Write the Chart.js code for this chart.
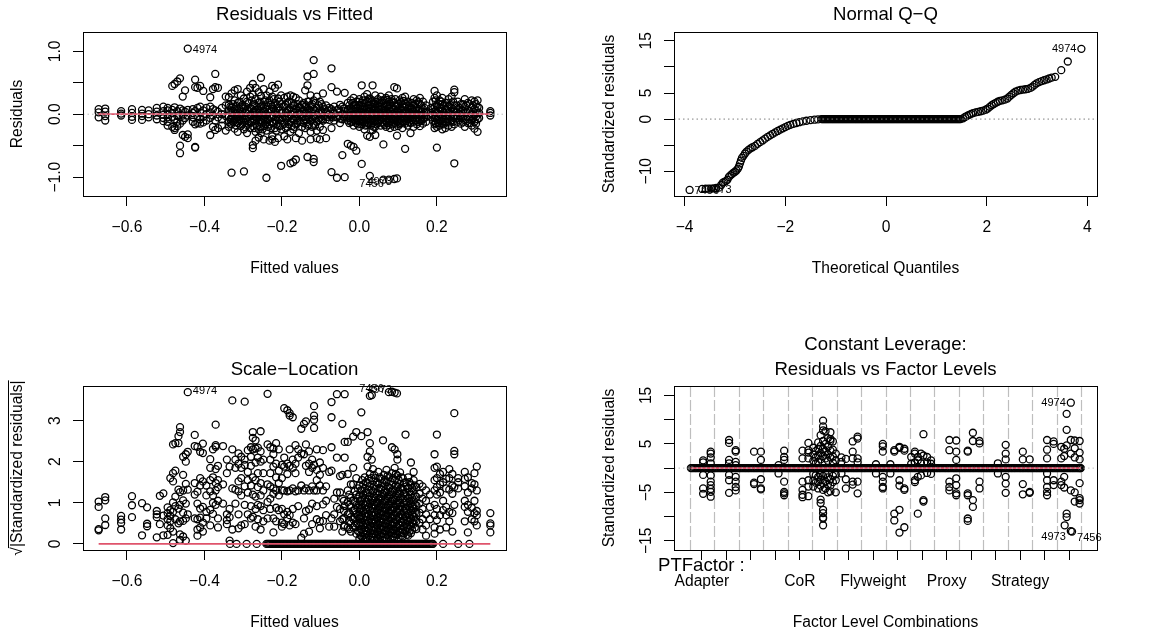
<!DOCTYPE html>
<html>
<head>
<meta charset="utf-8">
<title>lm diagnostics</title>
<script src="https://cdn.jsdelivr.net/npm/chart.js@4.4.1/dist/chart.umd.min.js"></script>
<style>
  body { margin: 0; background: #fff; }
  #page { position: relative; width: 1150px; height: 634px; }
  canvas { position: absolute; }
</style>
</head>
<body>
<div id="page">
  <canvas id="rvf" width="575" height="300" style="left:0;top:0"></canvas>
  <canvas id="qq" width="575" height="300" style="left:575px;top:0"></canvas>
  <canvas id="sl" width="575" height="334" style="left:0;top:300px"></canvas>
  <canvas id="fl" width="575" height="334" style="left:575px;top:300px"></canvas>
</div>
<script>
// ---- Residuals vs Fitted: [fitted value, residuals in that column]
const rvfColumns = [
  [-0.673, [0.08, 0.03, -0.05]],
  [-0.656, [0.09, 0.04, -0.03, -0.10]],
  [-0.615, [0.05, 0.01, -0.02]],
  [-0.587, [0.08, 0.02, -0.04, -0.09]],
  [-0.561, [0.07, 0.01, -0.03, -0.09]],
  [-0.544, [0.06, 0.00, -0.05]],
  [-0.523, [0.10, 0.04, -0.02, -0.08]],
  [-0.506, [0.12, 0.05, -0.01, -0.06, -0.11]],
  [-0.495, [0.10, 0.06, 0.00, -0.05, -0.12, -0.18]],
  [-0.483, [0.45, 0.07, 0.02, -0.04, -0.20]],
  [-0.477, [0.48, 0.11, -0.08, -0.22, -0.25]],
  [-0.470, [0.52, 0.05, -0.03, -0.12, -0.19]],
  [-0.463, [0.57, 0.09, -0.15, -0.50, -0.62]],
  [-0.456, [0.28, 0.06, -0.02, -0.10, -0.33]],
  [-0.450, [0.38, 0.04, -0.06, -0.36]],
  [-0.443, [0.07, -0.02, -0.32, -0.38]],
  [-0.430, [0.08, 0.02, -0.05, -0.12]],
  [-0.424, [0.55, 0.43, 0.05, -0.16, -0.52, -0.53]],
  [-0.418, [0.42, 0.10, -0.03, -0.14]],
  [-0.411, [0.45, 0.12, 0.03, -0.08, -0.15]],
  [-0.403, [0.37, 0.06, -0.04, -0.13]],
  [-0.395, [0.10, 0.00, -0.10]],
  [-0.385, [0.27, 0.12, 0.03, -0.06, -0.33]],
  [-0.378, [0.40, 0.08, -0.02, -0.20]],
  [-0.372, [0.64, 0.43, 0.06, -0.10, -0.25]],
  [-0.365, [0.42, 0.04, -0.05, -0.22]],
  [-0.355, [0.10, 0.00, -0.08, -0.18]],
  [-0.345, [0.28, 0.14, -0.03, -0.26]],
  [-0.337, [0.27, 0.15, 0.06, -0.04, -0.12, -0.20]],
  [-0.330, [0.33, 0.10, 0.02, -0.06, -0.16, -0.93]],
  [-0.322, [0.38, 0.22, 0.08, -0.02, -0.10, -0.23]],
  [-0.314, [0.40, 0.18, 0.05, -0.05, -0.14, -0.28]],
  [-0.306, [0.30, 0.12, 0.00, -0.09, -0.19]],
  [-0.298, [0.25, 0.09, -0.03, -0.12, -0.24, -0.91]],
  [-0.290, [0.36, 0.20, 0.06, -0.06, -0.17, -0.30]],
  [-0.282, [0.42, 0.28, 0.10, -0.01, -0.11, -0.22]],
  [-0.275, [0.48, 0.31, 0.14, 0.03, -0.08, -0.19, -0.49, -0.54]],
  [-0.268, [0.42, 0.24, 0.07, -0.04, -0.15, -0.28, -0.42]],
  [-0.260, [0.35, 0.18, 0.02, -0.10, -0.24, -0.37]],
  [-0.254, [0.58, 0.29, 0.12, -0.02, -0.13, -0.30]],
  [-0.247, [0.40, 0.20, 0.05, -0.07, -0.19, -0.40]],
  [-0.240, [0.30, 0.14, 0.00, -0.12, -0.26, -1.01]],
  [-0.232, [0.36, 0.22, 0.08, -0.04, -0.16, -0.42]],
  [-0.225, [0.45, 0.28, 0.12, -0.02, -0.14, -0.35, -0.40]],
  [-0.218, [0.42, 0.18, 0.04, -0.09, -0.22, -0.44]],
  [-0.210, [0.47, 0.25, 0.10, -0.05, -0.18, -0.38]],
  [-0.202, [0.30, 0.16, 0.02, -0.10, -0.24, -0.82]],
  [-0.194, [0.26, 0.12, -0.03, -0.15, -0.35]],
  [-0.186, [0.28, 0.18, 0.06, -0.06, -0.20, -0.40]],
  [-0.178, [0.30, 0.10, 0.00, -0.12, -0.28, -0.78]],
  [-0.171, [0.28, 0.14, 0.04, -0.08, -0.24, -0.76]],
  [-0.164, [0.26, 0.08, -0.04, -0.16, -0.38, -0.72]],
  [-0.156, [0.22, 0.12, 0.02, -0.10, -0.30]],
  [-0.148, [0.15, 0.05, -0.05, -0.20, -0.42]],
  [-0.140, [0.38, 0.12, 0.01, -0.08, -0.22]],
  [-0.134, [0.60, 0.46, 0.20, 0.06, -0.04, -0.18, -0.68]],
  [-0.126, [0.30, 0.14, 0.03, -0.10, -0.28, -0.40]],
  [-0.118, [0.86, 0.64, 0.22, 0.08, -0.03, -0.15, -0.71, -0.76]],
  [-0.110, [0.28, 0.10, -0.01, -0.12, -0.26, -0.38]],
  [-0.102, [0.20, 0.06, -0.06, -0.20, -0.40]],
  [-0.094, [0.33, 0.12, 0.02, -0.10, -0.25]],
  [-0.086, [0.14, 0.03, -0.08, -0.38]],
  [-0.078, [0.10, 0.00, -0.09]],
  [-0.072, [0.73, 0.43, 0.08, -0.04, -0.22, -0.92]],
  [-0.065, [0.12, 0.01, -0.10]],
  [-0.058, [0.36, 0.06, -0.05, -1.01]],
  [-0.050, [0.15, 0.03, -0.07, -0.14]],
  [-0.044, [0.12, 0.00, -0.08, -0.65]],
  [-0.038, [0.34, 0.05, -0.03, -1.00]],
  [-0.030, [0.18, 0.08, -0.02, -0.10, -0.47]],
  [-0.022, [0.22, 0.10, 0.03, -0.04, -0.12, -0.50]],
  [-0.015, [0.26, 0.14, 0.06, -0.02, -0.09, -0.18, -0.52]],
  [-0.008, [0.20, 0.09, 0.01, -0.06, -0.14, -0.58]],
  [0.000, [0.24, 0.15, 0.05, -0.03, -0.11, -0.20]],
  [0.006, [0.46, 0.18, 0.08, -0.01, -0.08, -0.16, -0.79]],
  [0.013, [0.28, 0.12, 0.04, -0.05, -0.13, -0.24]],
  [0.020, [0.32, 0.20, 0.09, 0.00, -0.07, -0.17, -0.34]],
  [0.027, [0.25, 0.14, 0.05, -0.03, -0.12, -0.36, -0.98]],
  [0.034, [0.46, 0.22, 0.11, 0.02, -0.06, -0.15, -0.25]],
  [0.041, [0.30, 0.16, 0.07, -0.02, -0.10, -0.20, -0.33]],
  [0.048, [0.24, 0.12, 0.03, -0.05, -0.14]],
  [0.055, [0.28, 0.18, 0.08, 0.00, -0.09, -0.18]],
  [0.062, [0.22, 0.10, 0.02, -0.06, -0.15, -0.48, -1.04]],
  [0.069, [0.26, 0.15, 0.06, -0.03, -0.11, -0.20]],
  [0.076, [0.30, 0.20, 0.09, 0.01, -0.08, -0.17]],
  [0.083, [0.24, 0.12, 0.04, -0.05, -0.13]],
  [0.090, [0.43, 0.18, 0.07, -0.02, -0.10, -0.20, -1.03]],
  [0.097, [0.41, 0.14, 0.05, -0.04, -0.12, -0.34]],
  [0.104, [0.22, 0.10, 0.02, -0.07, -0.16]],
  [0.111, [0.26, 0.16, 0.06, -0.03, -0.11, -0.22]],
  [0.118, [0.28, 0.12, 0.03, -0.06, -0.15, -0.55]],
  [0.125, [0.20, 0.08, 0.00, -0.08, -0.18]],
  [0.132, [0.18, 0.10, 0.02, -0.06, -0.14, -0.30]],
  [0.140, [0.24, 0.14, 0.05, -0.04, -0.12, -0.20]],
  [0.148, [0.22, 0.10, 0.01, -0.07, -0.16]],
  [0.156, [0.26, 0.16, 0.06, -0.02, -0.10, -0.19]],
  [0.164, [0.20, 0.08, 0.00, -0.08, -0.15]],
  [0.172, [0.14, 0.04, -0.04, -0.12]],
  [0.185, [0.10, 0.02, -0.05]],
  [0.194, [0.37, 0.26, 0.12, 0.04, -0.06, -0.16, -0.22]],
  [0.200, [0.30, 0.14, 0.02, -0.09, -0.20, -0.53]],
  [0.207, [0.22, 0.10, 0.00, -0.10, -0.18]],
  [0.214, [0.26, 0.16, 0.05, -0.06, -0.15, -0.24]],
  [0.222, [0.18, 0.08, -0.02, -0.12, -0.22]],
  [0.230, [0.24, 0.12, 0.03, -0.07, -0.18]],
  [0.238, [0.28, 0.10, 0.00, -0.10, -0.20]],
  [0.245, [0.39, 0.35, 0.14, 0.04, -0.06, -0.16, -0.78]],
  [0.254, [0.20, 0.08, -0.03, -0.12]],
  [0.262, [0.16, 0.04, -0.06, -0.15]],
  [0.272, [0.24, 0.12, 0.02, -0.09, -0.20]],
  [0.280, [0.18, 0.06, -0.04, -0.14]],
  [0.290, [0.22, 0.10, 0.00, -0.10, -0.18]],
  [0.297, [0.20, 0.08, -0.02, -0.12, -0.23]],
  [0.305, [0.22, 0.12, 0.02, -0.08, -0.28]],
  [0.338, [0.05, 0.02, -0.02]]
];
// the crowded core of the band near zero
const rvfBandColumns = [
  [-0.333, [0.12, 0.04, -0.08, -0.15]], [-0.326, [0.16, 0.05, -0.03, -0.12]],
  [-0.318, [0.13, 0.01, -0.07, -0.18]], [-0.310, [0.20, 0.08, -0.02, -0.11]],
  [-0.302, [0.15, 0.04, -0.06, -0.16]], [-0.294, [0.12, 0.02, -0.09, -0.21]],
  [-0.286, [0.18, 0.06, -0.04, -0.15]], [-0.278, [0.22, 0.08, -0.03, -0.13]],
  [-0.271, [0.16, 0.03, -0.10, -0.22]], [-0.264, [0.12, 0.04, -0.06, -0.18]],
  [-0.257, [0.20, 0.06, -0.05, -0.20]], [-0.250, [0.14, 0.02, -0.10, -0.24]],
  [-0.243, [0.22, 0.08, -0.04, -0.16]], [-0.236, [0.18, 0.03, -0.08, -0.20]],
  [-0.228, [0.15, 0.05, -0.06, -0.22]], [-0.221, [0.24, 0.09, -0.03, -0.15]],
  [-0.214, [0.16, 0.02, -0.10, -0.26]], [-0.206, [0.20, 0.06, -0.07, -0.19]],
  [-0.198, [0.12, 0.03, -0.05, -0.17]], [-0.190, [0.15, 0.02, -0.09, -0.22]],
  [-0.182, [0.20, 0.07, -0.04, -0.16]], [-0.175, [0.18, 0.05, -0.06, -0.19]],
  [-0.168, [0.14, 0.02, -0.10, -0.20]], [-0.160, [0.16, 0.05, -0.06, -0.14]],
  [-0.152, [0.10, 0.00, -0.12]], [-0.144, [0.18, 0.06, -0.04, -0.14]],
  [-0.137, [0.14, 0.02, -0.09]], [-0.130, [0.20, 0.07, -0.05, -0.16]],
  [-0.122, [0.16, 0.04, -0.07, -0.20]], [-0.114, [0.18, 0.05, -0.06, -0.18]],
  [-0.106, [0.14, 0.02, -0.10]], [-0.098, [0.16, 0.04, -0.08]],
  [-0.090, [0.08, -0.03]], [-0.082, [0.06, -0.04]], [-0.068, [0.05, -0.05]],
  [-0.054, [0.08, -0.02]], [-0.040, [0.09, -0.04]],
  [-0.026, [0.14, 0.05, -0.06, -0.14]], [-0.018, [0.18, 0.08, -0.01, -0.12]],
  [-0.011, [0.15, 0.04, -0.03, -0.10]], [-0.004, [0.20, 0.10, 0.02, -0.07, -0.16]],
  [0.003, [0.14, 0.03, -0.05, -0.13]], [0.009, [0.22, 0.12, 0.02, -0.04, -0.12]],
  [0.016, [0.18, 0.07, -0.02, -0.10, -0.18]], [0.023, [0.24, 0.14, 0.04, -0.05, -0.14]],
  [0.030, [0.19, 0.09, 0.00, -0.09, -0.18]], [0.037, [0.16, 0.06, -0.03, -0.11, -0.20]],
  [0.044, [0.20, 0.10, 0.01, -0.07, -0.16]], [0.051, [0.18, 0.07, -0.02, -0.10]],
  [0.058, [0.22, 0.12, 0.03, -0.05, -0.13]], [0.065, [0.18, 0.06, -0.02, -0.09, -0.17]],
  [0.072, [0.23, 0.13, 0.03, -0.06, -0.14]], [0.079, [0.16, 0.05, -0.03, -0.11, -0.22]],
  [0.086, [0.20, 0.08, 0.00, -0.08, -0.16]], [0.093, [0.24, 0.12, 0.02, -0.06, -0.15]],
  [0.100, [0.17, 0.06, -0.02, -0.10, -0.19]], [0.107, [0.19, 0.08, 0.00, -0.09, -0.14]],
  [0.114, [0.21, 0.11, 0.02, -0.05, -0.13]], [0.121, [0.16, 0.05, -0.03, -0.11]],
  [0.128, [0.14, 0.04, -0.04, -0.12]], [0.136, [0.18, 0.08, 0.00, -0.09]],
  [0.144, [0.16, 0.06, -0.02, -0.10]], [0.152, [0.19, 0.08, -0.01, -0.12]],
  [0.160, [0.14, 0.04, -0.05, -0.11]], [0.168, [0.10, 0.02, -0.06]],
  [0.190, [0.20, 0.08, -0.02, -0.10]], [0.197, [0.22, 0.06, -0.04, -0.14]],
  [0.204, [0.16, 0.05, -0.05, -0.14]], [0.211, [0.20, 0.09, -0.02, -0.11]],
  [0.218, [0.14, 0.03, -0.07, -0.16]], [0.226, [0.18, 0.07, -0.03, -0.12]],
  [0.234, [0.15, 0.05, -0.04, -0.13]], [0.242, [0.20, 0.08, -0.03, -0.12]],
  [0.250, [0.14, 0.03, -0.07]], [0.258, [0.10, 0.01, -0.09]],
  [0.267, [0.16, 0.06, -0.04, -0.13]], [0.276, [0.14, 0.03, -0.08]],
  [0.285, [0.16, 0.05, -0.05, -0.14]], [0.293, [0.14, 0.04, -0.06]],
  [0.301, [0.16, 0.06, -0.04, -0.15]], [0.309, [0.10, 0.02, -0.06]]
];
const rvfSmoothX = [-0.673, -0.45, -0.2, 0.0, 0.2, 0.338];
const rvfSmoothY = [0.0, 0.0, 0.0, 0.0, 0.0, 0.0];
const rvfIdText = ['4974', '7456', '4973'];
const rvfIdX = [-0.443, 0.076, 0.097];
const rvfIdY = [1.043, -1.04, -1.02];
const rvfXTicks = [-0.6, -0.4, -0.2, 0.0, 0.2];
const rvfXTickLabels = ['\u22120.6', '\u22120.4', '\u22120.2', '0.0', '0.2'];
const rvfYTicks = [-1.0, -0.5, 0.0, 0.5, 1.0];
const rvfYTickLabels = ['\u22121.0', '', '0.0', '', '1.0'];

// ---- Normal Q-Q: theoretical quantile / standardized residual
const qqTailTheo = [-3.90, -3.65, -3.58, -3.52, -3.47, -3.42, -3.37, -3.32, -3.27, -3.24, -3.21, -3.18,
  -3.15, -3.12, -3.09, -3.06, -3.03, -3.00, -2.97, -2.94, -2.92, -2.90, -2.88, -2.86, -2.83, -2.80,
  -2.77, -2.73, -2.69, -2.65, -2.60, -2.55, -2.50, -2.45, -2.40, -2.35, -2.30, -2.25, -2.20, -2.15,
  -2.10, -2.05, -2.00, -1.95, -1.90, -1.84, -1.78, -1.72, -1.65, -1.58, -1.50, -1.42, -1.35,
  1.53, 1.57, 1.61, 1.65, 1.69, 1.73, 1.78, 1.83, 1.88, 1.93, 1.98, 2.02, 2.06, 2.10, 2.14, 2.18,
  2.22, 2.26, 2.31, 2.36, 2.41, 2.45, 2.49, 2.53, 2.57, 2.62, 2.67, 2.72, 2.77, 2.82, 2.87, 2.91,
  2.95, 2.99, 3.04, 3.09, 3.14, 3.19, 3.24, 3.29, 3.36, 3.48, 3.61, 3.88];
const qqTailStd = [-13.59, -13.40, -13.36, -13.34, -13.32, -13.28, -13.22, -13.15, -12.60, -12.20, -12.05, -11.90,
  -11.65, -11.10, -10.80, -10.55, -10.30, -10.10, -9.85, -9.50, -9.10, -8.50, -7.95, -7.45, -7.05, -6.60,
  -6.25, -5.90, -5.62, -5.40, -5.15, -4.75, -4.42, -4.10, -3.75, -3.42, -3.12, -2.82, -2.55, -2.28,
  -2.02, -1.78, -1.55, -1.30, -1.10, -0.92, -0.75, -0.60, -0.45, -0.32, -0.20, -0.12, -0.06,
  0.15, 0.40, 0.62, 0.82, 1.00, 1.15, 1.28, 1.40, 1.50, 1.62, 1.80, 2.02, 2.35, 2.65, 2.90, 3.12,
  3.32, 3.48, 3.60, 3.72, 3.95, 4.30, 4.65, 4.95, 5.25, 5.45, 5.58, 5.66, 5.72, 5.80, 5.98, 6.22,
  6.55, 6.85, 7.08, 7.28, 7.45, 7.60, 7.78, 7.95, 8.10, 9.38, 11.04, 13.47];
// the flat run of zero standardized residuals
const qqZeroTheo = [-1.28, -1.26, -1.24, -1.22, -1.20, -1.18, -1.16, -1.14, -1.12, -1.10, -1.08, -1.06,
  -1.04, -1.02, -1.00, -0.98, -0.96, -0.94, -0.92, -0.90, -0.88, -0.86, -0.84, -0.82, -0.80, -0.78,
  -0.76, -0.74, -0.72, -0.70, -0.68, -0.66, -0.64, -0.62, -0.60, -0.58, -0.56, -0.54, -0.52, -0.50,
  -0.48, -0.46, -0.44, -0.42, -0.40, -0.38, -0.36, -0.34, -0.32, -0.30, -0.28, -0.26, -0.24, -0.22,
  -0.20, -0.18, -0.16, -0.14, -0.12, -0.10, -0.08, -0.06, -0.04, -0.02, 0.00, 0.02, 0.04, 0.06, 0.08,
  0.10, 0.12, 0.14, 0.16, 0.18, 0.20, 0.22, 0.24, 0.26, 0.28, 0.30, 0.32, 0.34, 0.36, 0.38, 0.40,
  0.42, 0.44, 0.46, 0.48, 0.50, 0.52, 0.54, 0.56, 0.58, 0.60, 0.62, 0.64, 0.66, 0.68, 0.70, 0.72,
  0.74, 0.76, 0.78, 0.80, 0.82, 0.84, 0.86, 0.88, 0.90, 0.92, 0.94, 0.96, 0.98, 1.00, 1.02, 1.04,
  1.06, 1.08, 1.10, 1.12, 1.14, 1.16, 1.18, 1.20, 1.22, 1.24, 1.26, 1.28, 1.30, 1.32, 1.34, 1.36,
  1.38, 1.40, 1.42, 1.44, 1.46, 1.48];
const qqIdText = ['4974', '7456', '4973'];
const qqIdX = [3.88, -3.90, -3.65];
const qqIdY = [13.47, -13.59, -13.40];
const qqXTicks = [-4, -2, 0, 2, 4];
const qqXTickLabels = ['\u22124', '\u22122', '0', '2', '4'];
const qqYTicks = [-10, -5, 0, 5, 10, 15];
const qqYTickLabels = ['\u221210', '', '0', '5', '', '15'];

// ---- Scale-Location: [fitted value, sqrt(|standardized residual|) values]
const slColumns = [
  [-0.673, [1.03, 0.90, 0.36, 0.33]],
  [-0.656, [1.14, 1.06, 0.62, 0.46]],
  [-0.615, [0.68, 0.59, 0.51, 0.35]],
  [-0.587, [1.16, 0.94, 0.65]],
  [-0.561, [0.99, 0.21]],
  [-0.548, [0.89, 0.49, 0.43]],
  [-0.523, [0.80, 0.72, 0.65, 0.16]],
  [-0.515, [1.17, 0.48]],
  [-0.506, [1.23, 0.69, 0.21]],
  [-0.495, [0.89, 0.75, 0.60, 0.45, 0.22]],
  [-0.488, [1.60, 0.82, 0.68, 0.55, 0.38]],
  [-0.481, [2.42, 1.72, 1.52, 1.01, 0.78, 0.30, 0.02]],
  [-0.475, [2.45, 1.78, 1.15, 0.92, 0.60]],
  [-0.467, [2.62, 2.45, 1.32, 0.86, 0.50]],
  [-0.463, [2.84, 2.72, 1.26, 0.95, 0.55, 0.23, 0.10]],
  [-0.455, [2.12, 1.68, 1.30, 1.06, 0.76, 0.56, 0.18]],
  [-0.448, [2.18, 2.00, 1.46, 0.98, 0.62, 0.08]],
  [-0.443, [2.24, 1.32, 0.72]],
  [-0.425, [2.65, 2.38, 1.48, 1.20, 0.62]],
  [-0.418, [2.36, 1.27, 0.98, 0.60, 0.35, 0.20]],
  [-0.411, [2.24, 1.60, 1.42, 0.86, 0.64, 0.40]],
  [-0.404, [2.44, 2.21, 1.52, 0.90, 0.52, 0.30]],
  [-0.395, [1.42, 1.18, 0.78, 0.62]],
  [-0.385, [2.06, 1.85, 1.55, 1.28, 0.83, 0.45]],
  [-0.378, [2.30, 1.62, 1.18, 1.00, 0.73]],
  [-0.371, [2.90, 2.40, 2.36, 1.82, 1.48, 1.30, 0.95]],
  [-0.365, [1.90, 1.55, 1.38, 1.05, 0.62, 0.40]],
  [-0.352, [2.38, 1.45, 0.98]],
  [-0.342, [2.05, 1.72, 0.72, 0.58, 0.48]],
  [-0.335, [1.88, 0.85, 0.65, 0.08]],
  [-0.328, [3.49, 2.30, 1.35, 0.35]],
  [-0.320, [2.05, 1.85, 1.32, 0.98]],
  [-0.312, [2.20, 1.95, 1.52, 1.28, 0.72, 0.38]],
  [-0.305, [2.12, 1.85, 1.60, 1.18, 0.45]],
  [-0.296, [3.46, 2.05, 1.92, 1.40, 0.95, 0.48]],
  [-0.288, [2.28, 1.75, 1.55, 1.25, 0.72]],
  [-0.280, [2.35, 2.12, 1.90, 1.42, 0.92, 0.62]],
  [-0.275, [2.72, 2.58, 2.30, 1.62, 1.20, 0.66]],
  [-0.268, [2.52, 2.32, 1.98, 1.55, 1.15, 0.85, 0.42]],
  [-0.262, [2.34, 2.10, 1.72, 1.38, 0.95, 0.60]],
  [-0.255, [2.74, 2.25, 2.00, 1.48, 1.18, 0.92, 0.35]],
  [-0.248, [2.05, 1.72, 1.30, 0.82, 0.55]],
  [-0.237, [3.65, 2.42, 1.45, 1.02, 0.62]],
  [-0.230, [2.35, 2.05, 1.72, 1.40, 1.10, 0.85]],
  [-0.222, [2.32, 2.18, 1.88, 1.35, 1.22, 0.62, 0.28]],
  [-0.215, [2.45, 1.95, 1.62, 1.30, 0.88, 0.55]],
  [-0.208, [2.30, 1.78, 1.48, 1.18, 0.82]],
  [-0.200, [1.92, 1.60, 1.30, 0.85, 0.52, 0.42]],
  [-0.194, [3.30, 2.10, 1.88, 1.30, 0.72, 0.48]],
  [-0.186, [3.25, 1.95, 1.70, 1.28, 0.78, 0.62]],
  [-0.180, [3.18, 3.12, 2.30, 1.90, 1.30, 0.70, 0.45]],
  [-0.172, [3.08, 2.05, 1.85, 1.35, 0.85, 0.52]],
  [-0.165, [2.40, 1.95, 1.72, 1.28, 0.48]],
  [-0.158, [2.30, 2.10, 1.30, 0.92]],
  [-0.150, [2.80, 2.20, 1.42, 0.15]],
  [-0.143, [2.92, 2.18, 1.30, 0.62, 0.25]],
  [-0.138, [2.98, 2.42, 1.90, 1.35, 0.80]],
  [-0.130, [2.25, 1.95, 1.75, 1.30, 0.84, 0.30]],
  [-0.122, [2.05, 1.85, 1.40, 0.98, 0.48]],
  [-0.117, [3.35, 3.12, 3.02, 2.82, 1.92, 1.30]],
  [-0.110, [2.30, 1.80, 1.55, 1.30, 0.92, 0.60]],
  [-0.102, [1.98, 1.68, 1.42, 0.55, 0.38]],
  [-0.094, [2.28, 1.85, 1.30, 0.96, 0.56]],
  [-0.086, [1.40, 1.05, 0.70]],
  [-0.078, [1.75, 0.42]],
  [-0.072, [3.45, 3.08, 2.35, 1.78, 0.62]],
  [-0.065, [1.10, 0.72, 0.42]],
  [-0.058, [3.64, 2.10, 1.25, 0.90]],
  [-0.050, [1.65, 1.25, 0.85, 0.55]],
  [-0.044, [2.92, 1.68, 1.10, 0.60, 0.30]],
  [-0.038, [3.64, 2.48, 2.10, 0.92, 0.45]],
  [-0.030, [2.48, 1.70, 1.30, 1.02, 0.72, 0.40]],
  [-0.022, [1.45, 1.12, 0.90, 0.65, 0.50, 0.30]],
  [-0.016, [2.61, 1.85, 1.45, 1.05, 0.80, 0.60, 0.40]],
  [-0.008, [2.72, 1.60, 1.20, 0.95, 0.72, 0.50, 0.25]],
  [0.000, [1.42, 1.18, 0.96, 0.78, 0.62, 0.44, 0.28, 0.12]],
  [0.005, [3.20, 2.62]],
  [0.007, [1.55, 1.30, 1.08, 0.88, 0.70, 0.52, 0.36, 0.18]],
  [0.014, [1.62, 1.36, 1.12, 0.94, 0.74, 0.58, 0.40, 0.22, 0.10]],
  [0.021, [2.72, 2.12, 1.88, 1.48, 1.24, 1.02, 0.84, 0.66, 0.48, 0.30, 0.14]],
  [0.027, [3.60, 2.45, 2.25, 1.70, 1.40, 1.16, 0.98, 0.80, 0.60, 0.42, 0.26]],
  [0.032, [3.62, 2.05]],
  [0.035, [1.82, 1.52, 1.28, 1.06, 0.86, 0.68, 0.50, 0.32, 0.16]],
  [0.042, [1.60, 1.34, 1.12, 0.92, 0.72, 0.54, 0.38, 0.20]],
  [0.049, [1.75, 1.45, 1.20, 1.00, 0.82, 0.64, 0.46, 0.28, 0.12]],
  [0.056, [1.58, 1.32, 1.10, 0.90, 0.70, 0.52, 0.34, 0.18]],
  [0.061, [2.52]],
  [0.063, [1.68, 1.40, 1.18, 0.96, 0.78, 0.58, 0.40, 0.24]],
  [0.070, [1.80, 1.50, 1.26, 1.04, 0.84, 0.66, 0.48, 0.30, 0.14]],
  [0.077, [1.62, 1.36, 1.14, 0.94, 0.74, 0.56, 0.36, 0.20]],
  [0.084, [3.70, 2.35, 1.72, 1.44, 1.20, 0.98, 0.80, 0.62, 0.44, 0.26]],
  [0.091, [3.68, 2.30, 1.85, 1.55, 1.30, 1.08, 0.88, 0.68, 0.50, 0.32, 0.16]],
  [0.098, [2.18, 2.05, 1.66, 1.38, 1.16, 0.95, 0.76, 0.58, 0.40, 0.22]],
  [0.105, [1.74, 1.46, 1.22, 1.00, 0.82, 0.62, 0.44, 0.28]],
  [0.112, [1.60, 1.34, 1.10, 0.90, 0.70, 0.52, 0.34, 0.18]],
  [0.119, [2.66, 1.50, 1.26, 1.04, 0.86, 0.66, 0.48, 0.30]],
  [0.126, [1.62, 1.36, 1.12, 0.92, 0.72, 0.54, 0.36, 0.20]],
  [0.133, [1.98, 1.44, 1.20, 0.98, 0.80, 0.60, 0.42, 0.26]],
  [0.140, [1.75, 1.55, 1.30, 1.06, 0.86, 0.66, 0.48]],
  [0.147, [1.38, 1.15, 0.94, 0.74, 0.55, 0.36]],
  [0.155, [1.46, 1.22, 0.98, 0.76, 0.52]],
  [0.163, [1.40, 1.10, 0.85, 0.60, 0.35]],
  [0.172, [1.30, 1.05, 0.72, 0.45, 0.20]],
  [0.182, [1.20, 0.90, 0.60]],
  [0.194, [2.18, 1.85, 1.55, 1.30, 0.95, 0.70, 0.40, 0.25]],
  [0.200, [2.66, 1.88, 1.60, 1.38, 1.20, 0.85, 0.58]],
  [0.208, [1.70, 1.45, 1.25, 0.70, 0.35]],
  [0.216, [1.75, 1.50, 1.05, 0.82]],
  [0.224, [1.58, 1.35, 0.90, 0.70, 0.40]],
  [0.232, [1.82, 1.60, 1.32, 0.78, 0.55]],
  [0.240, [1.70, 1.42, 1.22, 0.75, 0.30]],
  [0.245, [3.18, 2.26, 2.18, 1.38, 0.95]],
  [0.255, [1.60, 1.35, 1.50]],
  [0.272, [1.75, 1.58, 1.40, 1.05, 0.90, 0.55]],
  [0.280, [1.62, 1.25, 0.95, 0.78, 0.28]],
  [0.290, [1.48, 1.35, 0.88, 0.60]],
  [0.297, [1.72, 1.45, 1.05, 0.75, 0.55]],
  [0.303, [1.88, 1.30, 0.80, 0.70, 0.45]],
  [0.338, [0.75, 0.50, 0.45, 0.28]]
];
// the solid black blob just right of zero
const slBlobColumns = [
  [-0.040, [1.05, 0.80, 0.62, 0.42]], [-0.026, [1.20, 0.95, 0.75, 0.55, 0.36]],
  [-0.012, [1.28, 1.02, 0.82, 0.62, 0.44]], [-0.004, [1.35, 1.10, 0.88, 0.68, 0.50, 0.32]],
  [0.003, [1.30, 1.05, 0.86, 0.68, 0.52, 0.36, 0.20]], [0.010, [1.45, 1.20, 0.98, 0.80, 0.62, 0.46, 0.28, 0.12]],
  [0.017, [1.50, 1.25, 1.02, 0.84, 0.66, 0.50, 0.32, 0.16]], [0.024, [1.58, 1.32, 1.10, 0.90, 0.72, 0.55, 0.38, 0.20]],
  [0.031, [1.60, 1.30, 1.08, 0.88, 0.70, 0.52, 0.34, 0.18]], [0.038, [1.68, 1.40, 1.16, 0.96, 0.78, 0.60, 0.42, 0.24, 0.10]],
  [0.045, [1.50, 1.24, 1.02, 0.82, 0.64, 0.46, 0.30, 0.14]], [0.052, [1.62, 1.36, 1.12, 0.92, 0.74, 0.56, 0.38, 0.22]],
  [0.059, [1.48, 1.22, 1.00, 0.80, 0.62, 0.44, 0.26, 0.10]], [0.066, [1.56, 1.30, 1.08, 0.88, 0.68, 0.50, 0.32, 0.16]],
  [0.073, [1.66, 1.40, 1.16, 0.95, 0.76, 0.58, 0.40, 0.22]], [0.080, [1.52, 1.26, 1.04, 0.84, 0.66, 0.48, 0.30, 0.12]],
  [0.087, [1.60, 1.32, 1.10, 0.90, 0.70, 0.52, 0.36, 0.18]], [0.094, [1.70, 1.42, 1.20, 0.98, 0.78, 0.60, 0.42, 0.24]],
  [0.101, [1.56, 1.28, 1.06, 0.86, 0.66, 0.48, 0.32, 0.14]], [0.108, [1.62, 1.36, 1.12, 0.92, 0.72, 0.54, 0.36, 0.20]],
  [0.115, [1.48, 1.22, 1.00, 0.80, 0.60, 0.42, 0.26]], [0.122, [1.40, 1.16, 0.96, 0.76, 0.58, 0.40, 0.22]],
  [0.129, [1.50, 1.26, 1.04, 0.84, 0.64, 0.46, 0.30]], [0.136, [1.36, 1.12, 0.92, 0.72, 0.52, 0.34]],
  [0.143, [1.42, 1.18, 0.96, 0.76, 0.58, 0.40]]
];
// fitted values whose residual is exactly zero
const slZeroX = [-0.334, -0.317, -0.291, -0.265, -0.240, -0.234, -0.228, -0.222, -0.216, -0.210,
  -0.204, -0.198, -0.192, -0.186, -0.180, -0.174, -0.168, -0.162, -0.156, -0.150, -0.144, -0.138,
  -0.132, -0.126, -0.120, -0.114, -0.108, -0.102, -0.096, -0.090, -0.084, -0.078, -0.072, -0.066,
  -0.060, -0.054, -0.048, -0.042, -0.036, -0.030, -0.024, -0.018, -0.012, -0.006, 0.000, 0.006,
  0.012, 0.018, 0.024, 0.030, 0.036, 0.042, 0.048, 0.054, 0.060, 0.066, 0.072, 0.078, 0.084, 0.090,
  0.096, 0.102, 0.108, 0.114, 0.120, 0.126, 0.132, 0.138, 0.144, 0.150, 0.156, 0.162, 0.168, 0.174,
  0.180, 0.186, 0.190, 0.216, 0.255, 0.284,
  -0.237, -0.231, -0.225, -0.219, -0.213, -0.207, -0.201, -0.195, -0.189, -0.183, -0.177, -0.171,
  -0.165, -0.159, -0.153, -0.147, -0.141, -0.135, -0.129, -0.123, -0.117, -0.111, -0.105, -0.099,
  -0.093, -0.087, -0.081, -0.075, -0.069, -0.063, -0.057, -0.051, -0.045, -0.039, -0.033, -0.027,
  -0.021, -0.015, -0.009, -0.003, 0.003, 0.009, 0.015, 0.021, 0.027, 0.033, 0.039, 0.045, 0.051,
  0.057, 0.063, 0.069, 0.075, 0.081, 0.087, 0.093, 0.099, 0.105, 0.111, 0.117, 0.123, 0.129, 0.135,
  0.141, 0.147, 0.153, 0.159, 0.165, 0.171, 0.177, 0.183, 0.188];
const slSmoothX = [-0.673, -0.45, -0.2, 0.0, 0.2, 0.338];
const slSmoothY = [0.0, 0.0, 0.0, 0.0, 0.0, 0.0];
const slIdText = ['4974', '7456', '4973'];
const slIdX = [-0.443, 0.076, 0.097];
const slIdY = [3.69, 3.69, 3.66];
const slYTicks = [0, 1, 2, 3];
const slYTickLabels = ['0', '1', '2', '3'];

// ---- Constant leverage: [factor level position, standardized residuals]
const flColumns = [
  [0.55, [1.6, 1.2, -1.4, -4.2, -5.3]],
  [0.86, [3.4, 3.0, 2.2, 1.0, -1.5, -2.8, -3.5, -4.3, -4.9, -5.9]],
  [1.61, [5.8, 5.2, 1.7, 1.0, -1.4, -2.5, -5.1]],
  [1.88, [3.7, 3.4, 1.3, 0.6, -1.8, -2.8, -3.9, -4.6]],
  [2.63, [3.4, -3.0, -3.3]],
  [2.91, [3.4, 1.7, -2.3, -4.2, -4.4]],
  [3.63, [0.6, -1.1]],
  [3.86, [3.6, 2.3, 1.7, -2.8, -4.9, -5.2, -5.6]],
  [4.61, [3.6, 2.0, -2.8, -4.5, -5.5, -6.0]],
  [4.85, [5.2, 3.7, 3.2, 2.0, -2.5, -3.8, -5.8]],
  [5.05, [4.2, 2.8, 1.5, -1.2, -2.6, -3.8]],
  [5.15, [3.5, 2.2, 1.0, -1.5, -3.0]],
  [5.25, [5.3, 4.0, 2.6, 1.3, -1.8, -2.9, -4.2]],
  [5.35, [6.8, 4.6, 3.1, 1.8, -1.4, -2.4, -3.6, -6.5, -7.2]],
  [5.45, [9.8, 8.6, 7.8, 5.6, 4.0, 2.5, -1.6, -3.1, -4.5, -8.6, -9.3, -10.2, -10.4, -11.8]],
  [5.55, [7.6, 5.0, 3.4, 2.0, -1.2, -2.8, -4.2]],
  [5.65, [6.2, 4.4, 2.8, 1.5, -1.9, -3.4, -5.0]],
  [5.75, [7.4, 6.0, 5.6, 3.6, 2.2, -2.3, -3.6, -4.8]],
  [5.85, [5.5, 3.8, 2.4, 1.1, -1.6, -2.9]],
  [5.97, [3.0, 1.6, -1.3, -2.5, -5.0]],
  [6.20, [2.2, 1.3, -1.1]],
  [6.38, [1.9, -2.3, -4.2]],
  [6.66, [5.5, 3.4, 2.0, -2.8, -3.4]],
  [6.86, [6.5, 6.1, 2.0, 1.2, -2.8, -5.2]],
  [7.61, [0.8, -1.1]],
  [7.89, [5.0, 4.5, 3.4, -1.8, -2.8, -3.9, -4.2]],
  [8.20, [0.8, -1.1]],
  [8.36, [3.7, 3.4, -9.4, -10.8]],
  [8.57, [4.4, 4.2, -2.5, -3.6, -8.6, -13.3]],
  [8.77, [4.0, 3.6, -4.2, -4.5, -12.2]],
  [9.05, [2.3, 0.9]],
  [9.20, [3.4, 3.0, 1.2, -2.5, -2.9]],
  [9.32, [2.3, 1.6, -1.8, -9.4]],
  [9.45, [3.0, 1.0, -1.5]],
  [9.55, [7.0, 2.6, -6.6, -6.9]],
  [9.70, [2.3, 1.2, -1.0]],
  [9.86, [1.6, 0.9, -1.2]],
  [10.61, [5.8, 3.7, -2.8, -3.9, -4.6]],
  [10.89, [5.7, 3.4, 1.7, -2.1, -3.5, -5.2, -5.6]],
  [11.36, [3.6, 3.4, -5.2, -5.6, -10.4, -10.9]],
  [11.57, [7.3, 5.6, -6.6, -8.0]],
  [11.84, [5.6, 5.1, -2.8, -4.2]],
  [12.59, [1.0, -1.1]],
  [12.91, [4.8, 3.0, 1.8, -1.8, -3.2, -5.1]],
  [13.61, [3.4, 1.8, -3.3, -5.4]],
  [13.89, [1.8, -4.9, -5.1]],
  [14.60, [5.8, 3.8, 2.0, -1.1, -2.5, -3.9, -4.9, -5.6]],
  [14.87, [5.5, 5.0, -2.5, -3.5]],
  [15.18, [4.4, 2.0, -2.8, -3.5]],
  [15.30, [4.0, 2.5, -1.8, -4.0]],
  [15.32, [-11.8]],
  [15.40, [11.2, 7.9, 4.7, -9.4, -10.1]],
  [15.57, [5.8, 3.0, -4.6]],
  [15.73, [5.7, 4.1, 2.2, -5.0, -6.9]],
  [15.93, [5.6, 3.2, 1.8, -3.1, -6.2, -6.6, -7.3]]
];
// level positions of the many observations with a zero residual
const flZeroX = [0.05, 0.16, 0.27, 0.39, 0.50, 0.61, 0.72, 0.84, 0.95, 1.06, 1.18, 1.29, 1.40, 1.52,
  1.63, 1.74, 1.86, 1.97, 2.08, 2.20, 2.31, 2.42, 2.54, 2.65, 2.76, 2.88, 2.99, 3.10, 3.22, 3.33,
  3.44, 3.56, 3.67, 3.78, 3.90, 4.01, 4.12, 4.24, 4.35, 4.46, 4.58, 4.69, 4.80, 4.92, 5.03, 5.14,
  5.26, 5.37, 5.48, 5.60, 5.71, 5.82, 5.94, 6.05, 6.16, 6.28, 6.39, 6.50, 6.62, 6.73, 6.84, 6.96,
  7.07, 7.18, 7.30, 7.41, 7.52, 7.64, 7.75, 7.86, 7.98, 8.09, 8.20, 8.32, 8.43, 8.54, 8.66, 8.77,
  8.88, 9.00, 9.11, 9.22, 9.34, 9.45, 9.56, 9.68, 9.79, 9.90, 10.02, 10.13, 10.24, 10.36, 10.47,
  10.58, 10.70, 10.81, 10.92, 11.04, 11.15, 11.26, 11.38, 11.49, 11.60, 11.72, 11.83, 11.94, 12.06,
  12.17, 12.28, 12.40, 12.51, 12.62, 12.74, 12.85, 12.96, 13.08, 13.19, 13.30, 13.42, 13.53, 13.64,
  13.76, 13.87, 13.98, 14.10, 14.21, 14.32, 14.44, 14.55, 14.66, 14.78, 14.89, 15.00, 15.12, 15.23,
  15.34, 15.46, 15.57, 15.68, 15.80, 15.91, 15.98,
  0.10, 0.22, 0.33, 0.45, 0.56, 0.67, 0.78, 0.90, 1.01, 1.12, 1.24, 1.35, 1.46, 1.58, 1.69, 1.80,
  1.92, 2.03, 2.14, 2.26, 2.37, 2.48, 2.60, 2.71, 2.82, 2.94, 3.05, 3.16, 3.28, 3.39, 3.50, 3.62,
  3.73, 3.84, 3.96, 4.07, 4.18, 4.30, 4.41, 4.52, 4.64, 4.75, 4.86, 4.98, 5.09, 5.20, 5.32, 5.43,
  5.54, 5.66, 5.77, 5.88, 6.00, 6.11, 6.22, 6.34, 6.45, 6.56, 6.68, 6.79, 6.90, 7.02, 7.13, 7.24,
  7.36, 7.47, 7.58, 7.70, 7.81, 7.92, 8.04, 8.15, 8.26, 8.38, 8.49, 8.60, 8.72, 8.83, 8.94, 9.06,
  9.17, 9.28, 9.40, 9.51, 9.62, 9.74, 9.85, 9.96, 10.08, 10.19, 10.30, 10.42, 10.53, 10.64, 10.76,
  10.87, 10.98, 11.10, 11.21, 11.32, 11.44, 11.55, 11.66, 11.78, 11.89, 12.00, 12.12, 12.23, 12.34,
  12.46, 12.57, 12.68, 12.80, 12.91, 13.02, 13.14, 13.25, 13.36, 13.48, 13.59, 13.70, 13.82, 13.93,
  14.04, 14.16, 14.27, 14.38, 14.50, 14.61, 14.72, 14.84, 14.95, 15.06, 15.18, 15.29, 15.40, 15.52,
  15.63, 15.74, 15.86, 15.95];
const flSmoothX = [0.05, 4, 8, 12, 15.98];
const flSmoothY = [0, 0, 0, 0, 0];
const flIdText = ['4974', '4973', '7456'];
const flIdX = [15.57, 15.57, 15.62];
const flIdY = [13.5, -13.0, -13.1];
const flLevelEdges = [0, 1, 2, 3, 4, 5, 6, 7, 8, 9, 10, 11, 12, 13, 14, 15, 16];
const flLevelCentres = [0.5, 1.5, 2.5, 3.5, 4.5, 5.5, 6.5, 7.5, 8.5, 9.5, 10.5, 11.5, 12.5, 13.5, 14.5, 15.5];
const flLevelLabels = ['Adapter', '', '', '', 'CoR', '', '', 'Flyweight', '', '', 'Proxy', '', '', 'Strategy', '', ''];
const flYTicks = [-15, -10, -5, 0, 5, 10, 15];
const flYTickLabels = ['\u221215', '', '\u22125', '', '5', '', '15'];

// ---------------------------------------------------------------
const FONT = '"Liberation Sans", Arial, Helvetica, sans-serif';
const font = px => px + 'px ' + FONT;
const RED = '#DF536B';

function fromColumns(cols) {
  const out = [];
  cols.forEach(([x, ys]) => ys.forEach(y => out.push({ x, y })));
  return out;
}
function zip(xs, ys) { return xs.map((x, i) => ({ x, y: ys[i] })); }

function rings(data) {
  return {
    type: 'scatter', data, order: 3,
    pointStyle: 'circle', pointRadius: 3.5, pointHoverRadius: 3.5,
    pointBorderWidth: 1.3, pointBorderColor: '#000', pointBackgroundColor: 'rgba(0,0,0,0)'
  };
}
function line(data, color, width, dash, order) {
  return {
    type: 'line', data, order, showLine: true, borderColor: color, borderWidth: width,
    borderDash: dash, pointRadius: 0, fill: false, tension: 0
  };
}

// draws the R style frame, texts and id labels
function rFrame(cfg) {
  return {
    id: 'rFrame',
    beforeDatasetsDraw(chart) {
      if (!cfg.vLines) return;
      const { ctx, chartArea: a } = chart;
      const xs = chart.scales.x;
      ctx.save();
      ctx.strokeStyle = '#BEBEBE';
      ctx.lineWidth = 1.2;
      ctx.setLineDash([11, 3]);
      cfg.vLines.forEach(v => {
        const px = Math.round(xs.getPixelForValue(v)) + 0.5;
        ctx.beginPath(); ctx.moveTo(px, a.top); ctx.lineTo(px, a.bottom); ctx.stroke();
      });
      ctx.restore();
    },
    afterDraw(chart) {
      const { ctx, chartArea: a } = chart;
      const xs = chart.scales.x, ys = chart.scales.y;
      ctx.save();
      ctx.strokeStyle = '#000';
      ctx.lineWidth = 1;
      ctx.strokeRect(Math.round(a.left) + 0.5, Math.round(a.top) + 0.5,
        Math.round(a.right - a.left), Math.round(a.bottom - a.top));
      ctx.fillStyle = '#000';
      ctx.textAlign = 'center';
      ctx.textBaseline = 'middle';
      const cx = (a.left + a.right) / 2;
      ctx.font = font(18.6);
      cfg.title.forEach((t, i) => ctx.fillText(t, cx, cfg.titleY[i]));
      ctx.font = font(15.6);
      cfg.xTicks.forEach((v, i) => {
        if (cfg.xLabels[i]) ctx.fillText(cfg.xLabels[i], xs.getPixelForValue(v), cfg.xLabY);
      });
      ctx.fillText(cfg.xTitle, cx, cfg.xTitleY);
      cfg.yTicks.forEach((v, i) => {
        if (!cfg.yLabels[i]) return;
        ctx.save();
        ctx.translate(cfg.yLabX, ys.getPixelForValue(v));
        ctx.rotate(-Math.PI / 2);
        ctx.fillText(cfg.yLabels[i], 0, 0);
        ctx.restore();
      });
      ctx.save();
      ctx.translate(cfg.yTitleX, (a.top + a.bottom) / 2);
      ctx.rotate(-Math.PI / 2);
      ctx.fillText(cfg.yTitle, 0, 0);
      if (cfg.rootBar) {
        const w = ctx.measureText(cfg.yTitle).width;
        const r = ctx.measureText('\u221A').width;
        ctx.lineWidth = 1;
        ctx.beginPath();
        ctx.moveTo(-w / 2 + r - 1, -9.5);
        ctx.lineTo(w / 2, -9.5);
        ctx.stroke();
      }
      ctx.restore();
      if (cfg.factorName) {
        ctx.font = font(18.6);
        ctx.textAlign = 'left';
        ctx.fillText(cfg.factorName, cfg.factorX, cfg.factorY);
      }
      ctx.font = font(11);
      cfg.ids.text.forEach((t, i) => {
        const px = xs.getPixelForValue(cfg.ids.x[i]);
        const py = ys.getPixelForValue(cfg.ids.y[i]) + cfg.ids.dy[i];
        const side = cfg.ids.side[i];
        ctx.textAlign = side === 'left' ? 'right' : 'left';
        ctx.fillText(t, px + (side === 'left' ? -5 : 5), py);
      });
      ctx.restore();
    }
  };
}

function makeChart(id, datasets, xr, yr, xTicks, yTicks, pad, yW, xH, cfg) {
  const axis = (min, max, ticks, fit) => ({
    type: 'linear', min, max,
    afterBuildTicks: s => { s.ticks = ticks.map(v => ({ value: v })); },
    afterFit: fit,
    ticks: { display: false },
    grid: { drawOnChartArea: false, drawTicks: true, tickLength: 10, color: '#000', lineWidth: 1 },
    border: { display: false }
  });
  return new Chart(document.getElementById(id), {
    type: 'scatter',
    data: { datasets },
    options: {
      responsive: false, animation: false, devicePixelRatio: 1, events: [],
      layout: { padding: pad },
      plugins: { legend: { display: false }, tooltip: { enabled: false }, title: { display: false } },
      scales: {
        x: axis(xr[0], xr[1], xTicks, s => { s.height = xH; }),
        y: axis(yr[0], yr[1], yTicks, s => { s.width = yW; })
      }
    },
    plugins: [rFrame(cfg)]
  });
}

// Residuals vs Fitted
const rvfX = [-0.7134, 0.3784];
makeChart('rvf', [
  rings(fromColumns(rvfColumns).concat(fromColumns(rvfBandColumns), zip(rvfIdX, rvfIdY))),
  line(zip(rvfSmoothX, rvfSmoothY), RED, 1.8, [], 2),
  line([{ x: rvfX[0], y: 0 }, { x: rvfX[1], y: 0 }], '#BEBEBE', 1, [1.5, 3], 1)
], rvfX, [-1.30, 1.307], rvfXTicks, rvfYTicks,
  { left: 0, top: 32, right: 69, bottom: 0 }, 83, 104, {
    title: ['Residuals vs Fitted'], titleY: [15],
    xTicks: rvfXTicks, xLabels: rvfXTickLabels, xLabY: 228,
    yTicks: rvfYTicks, yLabels: rvfYTickLabels, yLabX: 56,
    xTitle: 'Fitted values', xTitleY: 269, yTitle: 'Residuals', yTitleX: 18,
    ids: { text: rvfIdText, x: rvfIdX, y: rvfIdY, dy: [1, 4, 4], side: ['right', 'left', 'left'] }
  });

// Normal Q-Q
const qqX = [-4.21, 4.19];
makeChart('qq', [
  rings(zip(qqTailTheo, qqTailStd).concat(qqZeroTheo.map(q => ({ x: q, y: 0 })))),
  line([{ x: qqX[0], y: 0 }, { x: qqX[1], y: 0 }], '#7F7F7F', 1, [1.5, 3], 1)
], qqX, [-14.75, 16.7], qqXTicks, qqYTicks,
  { left: 0, top: 32, right: 53, bottom: 0 }, 99, 104, {
    title: ['Normal Q\u2212Q'], titleY: [15],
    xTicks: qqXTicks, xLabels: qqXTickLabels, xLabY: 228,
    yTicks: qqYTicks, yLabels: qqYTickLabels, yLabX: 72,
    xTitle: 'Theoretical Quantiles', xTitleY: 269, yTitle: 'Standardized residuals', yTitleX: 35,
    ids: { text: qqIdText, x: qqIdX, y: qqIdY, dy: [0, 1, 1], side: ['left', 'right', 'right'] }
  });

// Scale-Location
makeChart('sl', [
  rings(fromColumns(slColumns).concat(fromColumns(slBlobColumns),
    slZeroX.map(x => ({ x, y: 0 })), zip(slIdX, slIdY))),
  line(zip(slSmoothX, slSmoothY), RED, 1.8, [], 2)
], rvfX, [-0.148, 3.84], rvfXTicks, slYTicks,
  { left: 0, top: 86, right: 69, bottom: 0 }, 83, 84, {
    title: ['Scale\u2212Location'], titleY: [70],
    xTicks: rvfXTicks, xLabels: rvfXTickLabels, xLabY: 282,
    yTicks: slYTicks, yLabels: slYTickLabels, yLabX: 56,
    xTitle: 'Fitted values', xTitleY: 323, yTitle: '\u221A|Standardized residuals|', yTitleX: 18,
    rootBar: true,
    ids: { text: slIdText, x: slIdX, y: slIdY, dy: [-1, -3, -3], side: ['right', 'left', 'left'] }
  });

// Constant Leverage: Residuals vs Factor Levels
const flX = [-0.64, 16.64];
makeChart('fl', [
  rings(fromColumns(flColumns).concat(flZeroX.map(x => ({ x, y: 0 })), zip(flIdX, flIdY))),
  line(zip(flSmoothX, flSmoothY), RED, 1.8, [], 2),
  line([{ x: flX[0], y: 0 }, { x: flX[1], y: 0 }], '#BEBEBE', 1, [1.5, 3], 1)
], flX, [-16.9, 16.95], flLevelCentres, flYTicks,
  { left: 0, top: 86, right: 53, bottom: 0 }, 99, 84, {
    title: ['Constant Leverage:', 'Residuals vs Factor Levels'], titleY: [45, 70],
    xTicks: flLevelCentres, xLabels: flLevelLabels, xLabY: 282,
    yTicks: flYTicks, yLabels: flYTickLabels, yLabX: 72,
    xTitle: 'Factor Level Combinations', xTitleY: 323, yTitle: 'Standardized residuals', yTitleX: 35,
    vLines: flLevelEdges,
    factorName: 'PTFactor :', factorX: 83, factorY: 266,
    ids: { text: flIdText, x: flIdX, y: flIdY, dy: [0, 6, 6], side: ['left', 'left', 'right'] }
  });
</script>
</body>
</html>
